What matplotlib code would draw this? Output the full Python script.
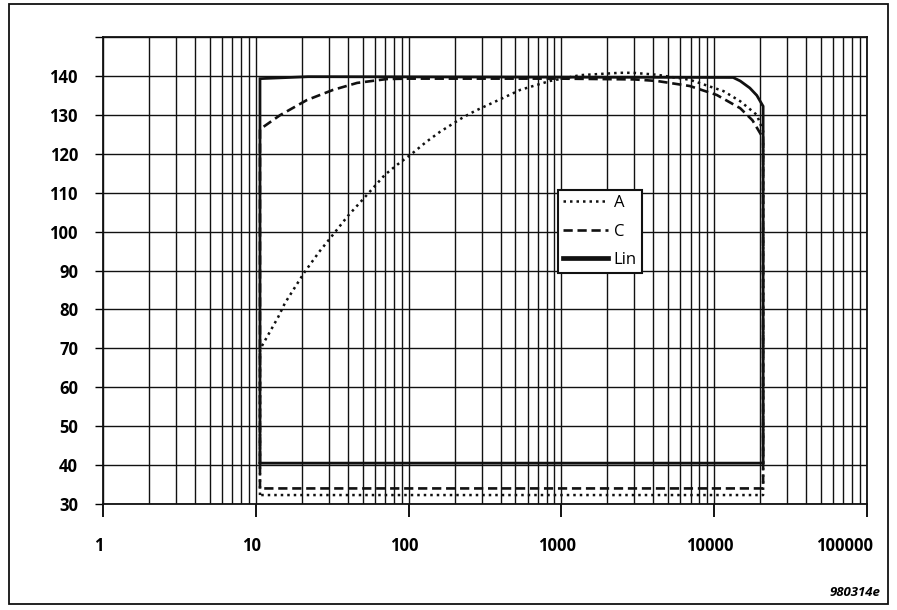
import matplotlib
matplotlib.use("Agg")
import matplotlib.pyplot as plt
from matplotlib.ticker import LogLocator, FixedLocator, NullFormatter
from matplotlib.patches import Rectangle
from matplotlib.lines import Line2D
from matplotlib.transforms import ScaledTranslation

# ---- data ----
x_tick_values = [1, 10, 100, 1000, 10000, 100000]
x_tick_labels = ["1", "10", "100", "1000", "10000", "100000"]
y_tick_values = [30, 40, 50, 60, 70, 80, 90, 100, 110, 120, 130, 140, 150]
y_tick_labels = ["30", "40", "50", "60", "70", "80", "90", "100", "110", "120", "130", "140", ""]

a_freq = [10.65, 11, 14, 15.5, 20.7, 26, 32, 40, 53, 70, 85, 105, 130, 160, 200,
          224, 272, 398, 537, 842, 1330, 2410, 2940, 4220, 6930, 11500, 14800,
          19000, 20900]
a_level = [69.5, 70.7, 78.0, 81.6, 89.4, 94.8, 99.2, 104.0, 109.3, 114.6, 117.3,
           120.0, 123.0, 125.6, 128.0, 129.2, 131.0, 134.0, 136.4, 138.7, 140.2,
           140.8, 140.8, 140.3, 139.0, 136.1, 133.5, 130.0, 125.8]
a_floor = 32.3

c_freq = [10.65, 14.4, 21.6, 32, 46, 72, 100, 1000, 3000, 4220, 6930, 10400,
          14800, 17800, 20900]
c_level = [126.3, 129.9, 133.8, 136.4, 138.2, 139.2, 139.3, 139.3, 139.1, 138.7,
           137.4, 135.1, 131.7, 128.6, 124.0]
c_floor = 34.0

lin_freq = [10.65, 22, 13300, 14800, 17100, 19000, 20900]
lin_level = [139.3, 139.8, 139.6, 138.7, 136.9, 135.0, 132.2]
lin_floor = 40.5

W, H = 897, 610
fig = plt.figure(figsize=(W / 100, H / 100), dpi=100)
plt.rcParams['font.family'] = ['Open Sans', 'DejaVu Sans']

ax_l, ax_r, ax_t, ax_b = 103, 867, 37, 504
ax = fig.add_axes([ax_l / W, 1 - ax_b / H, (ax_r - ax_l) / W, (ax_b - ax_t) / H])
ax.set_xscale('log')
ax.set_xlim(1, 100000)
ax.set_ylim(30, 150)

ax.xaxis.set_major_locator(FixedLocator(x_tick_values))
ax.set_xticklabels(x_tick_labels)
ax.xaxis.set_minor_locator(LogLocator(base=10, subs=range(2, 10), numticks=50))
ax.xaxis.set_minor_formatter(NullFormatter())
ax.yaxis.set_major_locator(FixedLocator(y_tick_values))
ax.set_yticklabels(y_tick_labels)

ax.grid(True, which='both', axis='x', color='#111111', lw=1.0)
ax.grid(True, which='major', axis='y', color='#111111', lw=1.0)
ax.set_axisbelow(True)

ax.tick_params(axis='x', which='major', direction='out', length=9.5, width=1.3,
               pad=14, labelsize=12)
ax.tick_params(axis='x', which='minor', length=0)
ax.tick_params(axis='y', which='major', direction='out', length=6, width=1.0,
               pad=12, labelsize=12)
for lab in ax.get_xticklabels() + ax.get_yticklabels():
    lab.set_fontweight('bold')
# keep the last x label inside the frame, like the reference
xlabs = ax.get_xticklabels()
for i, lab in enumerate(xlabs):
    dx = -22 if i == len(xlabs) - 1 else -4
    lab.set_transform(lab.get_transform() + ScaledTranslation(dx / 100, 0, fig.dpi_scale_trans))
for s in ax.spines.values():
    s.set_color('#111111')
    s.set_linewidth(1.3)


def closed(freqs, levels, floor):
    xs = [freqs[0]] + list(freqs) + [freqs[-1], freqs[0]]
    ys = [floor] + list(levels) + [floor, floor]
    return xs, ys


xa, ya = closed(a_freq, a_level, a_floor)
xc, yc = closed(c_freq, c_level, c_floor)
xl, yl = closed(lin_freq, lin_level, lin_floor)

a_style = (0, (1.0, 1.6))
c_style = (0, (3.5, 1.8))
ax.plot(xa, ya, color='#111111', lw=1.8, linestyle=a_style, zorder=3)
ax.plot(xc, yc, color='#111111', lw=1.9, linestyle=c_style, zorder=4)
ax.plot(xl, yl, color='#111111', lw=2.0, solid_joinstyle='miter', zorder=5)

h_a = Line2D([], [], color='#111111', lw=1.8, linestyle=a_style)
h_c = Line2D([], [], color='#111111', lw=1.9, linestyle=c_style)
h_l = Line2D([], [], color='#111111', lw=3.4)
leg = ax.legend([h_a, h_c, h_l], ['A', 'C', 'Lin'], loc='upper left',
                bbox_to_anchor=((558 - ax_l) / (ax_r - ax_l), 1 - (190 - ax_t) / (ax_b - ax_t)),
                frameon=True, fancybox=False, edgecolor='#111111', framealpha=1,
                fontsize=12, handlelength=2.7, handletextpad=0.35, labelspacing=0.75,
                borderpad=0.3, borderaxespad=0)
leg.get_frame().set_linewidth(1.5)
leg.set_zorder(10)

# outer frame
fig.patches.append(Rectangle((9 / W, 1 - 604 / H), (888 - 9) / W, (604 - 4) / H,
                             transform=fig.transFigure, fill=False,
                             edgecolor='#111111', lw=1.3))
fig.text(880 / W, 1 - 593 / H, '980314e', ha='right', va='center',
         fontsize=9.5, fontweight='bold', fontstyle='italic')

fig.savefig('out.png', dpi=100)
